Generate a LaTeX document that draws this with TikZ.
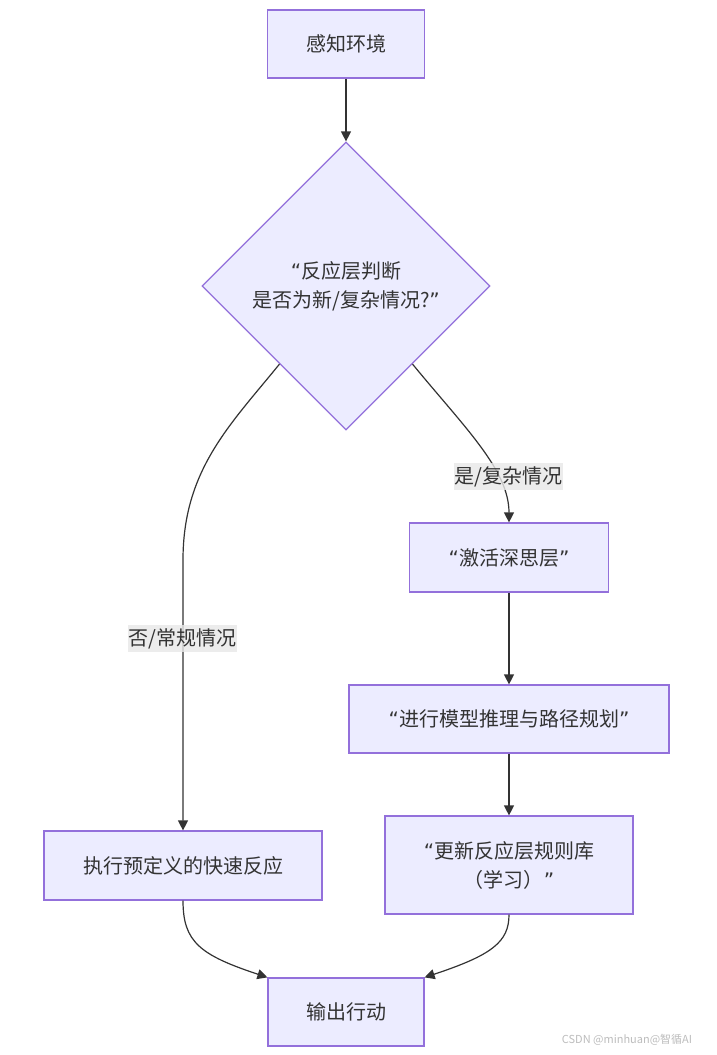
\documentclass[tikz,border=0pt]{standalone}
\usepackage{fontspec}
\setmainfont{Noto Sans CJK SC}
\newfontfamily\quotefont{DejaVu Sans}
\usepackage{tikz}
\usetikzlibrary{shapes.geometric}
\usetikzlibrary{arrows.meta,calc}
\definecolor{boxfill}{HTML}{ECECFF}
\definecolor{boxline}{HTML}{9370DB}
\definecolor{txt}{HTML}{333333}
\definecolor{lblfill}{HTML}{E8E8E8}
\definecolor{wmark}{HTML}{BDBDBD}
\newcommand{\openq}{{\quotefont “}}
\newcommand{\closeq}{{\quotefont ”}}
\tikzstyle{block}=[draw=boxline, fill=boxfill, line width=1.2pt, text=txt, inner sep=0pt, align=center, font=\fontsize{20}{29}\selectfont]
\tikzstyle{decision}=[block, diamond, aspect=1, minimum width=288pt, minimum height=288pt]
\tikzstyle{edge}=[draw=txt, line width=1.2pt, -{Triangle[length=10pt,width=10pt]}]
\tikzstyle{lbl}=[fill=lblfill, fill opacity=0.8, text opacity=1, text=txt, inner xsep=1pt, inner ysep=3pt, font=\fontsize{20}{24}\selectfont]
\usepackage{xcolor}

\begin{document}
\begin{tikzpicture}[x=1pt,y=-1pt]
\fill[white] (0,0) rectangle (716,1055);
\useasboundingbox (0,0) rectangle (716,1055);
\node[block, minimum width=157pt, minimum height=68pt] (sense) at (346,44) {感知环境};
\node[decision] (dec) at (346,286) {\openq 反应层判断\\是否为新/复杂情况?\closeq};
\node[block, minimum width=199pt, minimum height=69pt] (act) at (509,557.5) {\openq 激活深思层\closeq};
\node[block, minimum width=320pt, minimum height=68pt] (plan) at (509,719) {\openq 进行模型推理与路径规划\closeq};
\node[block, minimum width=248pt, minimum height=98pt] (upd) at (509,865) {\openq 更新反应层规则库\\（学习）\closeq};
\node[block, minimum width=278pt, minimum height=69pt] (exec) at (183,865.5) {执行预定义的快速反应};
\node[block, minimum width=156pt, minimum height=68pt] (out) at (346,1012) {输出行动};
\foreach \a/\b in {sense/dec, act/plan, plan/upd}
 \draw[edge] (\a.south) -- (\b.north);
\coordinate (dl) at ($(dec.west)!0.54!(dec.south)$);
\coordinate (dr) at ($(dec.east)!0.54!(dec.south)$);
\draw[edge] (dl) .. controls (230,425) and (183,470) .. (183,560) -- (exec.north);
\draw[edge] (dr) .. controls (465,428) and (509,470) .. (act.north);
\draw[edge] (exec.south) .. controls (183,942) and (200,955) .. (out.north west);
\draw[edge] (upd.south) .. controls (509,942) and (492,955) .. (out.north east);
\node[lbl] (no) at (182.5,638.5) {否/常规情况};
\node[lbl] (yes) at (508.5,476.5) {是/复杂情况};
\node[text=wmark, font=\fontsize{11}{13}\selectfont] (wm) at (627,1040) {CSDN @minhuan@智循AI};
\end{tikzpicture}
\end{document}
